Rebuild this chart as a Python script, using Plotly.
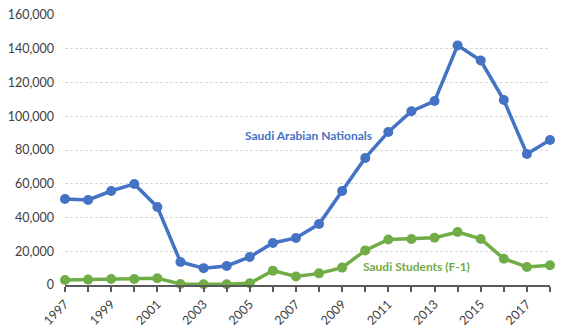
import plotly.graph_objects as go

years = list(range(1997, 2019))
nationals = [51000, 50400, 55700, 59900, 46200, 13600, 10000, 11300, 16600, 24900, 27900,
             36100, 55700, 75300, 90700, 103000, 109000, 142000, 133000, 109600, 77600, 85900]
students = [3000, 3200, 3600, 3600, 4000, 600, 400, 400, 1000, 8500, 5000,
            6900, 10300, 20500, 27000, 27300, 28000, 31400, 27300, 15600, 10700, 11700]
tick_text = [str(y) if y % 2 == 1 else "" for y in years]
y_ticks = list(range(0, 160001, 20000))
y_ticktext = [f"{v:,}" for v in y_ticks]

blue = "#4472C4"
green = "#70AD47"
font = "Lato"

fig = go.Figure()
fig.add_trace(go.Scatter(x=years, y=nationals, mode="lines+markers",
                         line=dict(color=blue, width=3.5),
                         marker=dict(color=blue, size=10),
                         cliponaxis=False, showlegend=False))
fig.add_trace(go.Scatter(x=years, y=students, mode="lines+markers",
                         line=dict(color=green, width=3.5),
                         marker=dict(color=green, size=10),
                         cliponaxis=False, showlegend=False))

fig.add_annotation(x=2007.56, y=88300, text="<b>Saudi Arabian Nationals</b>", showarrow=False,
                   font=dict(family=font, size=12, color=blue))
fig.add_annotation(x=2012.2, y=10700, text="<b>Saudi Students (F-1)</b>", showarrow=False,
                   font=dict(family=font, size=12, color=green))

fig.update_layout(
    width=576, height=334,
    margin=dict(l=65, r=26, t=15, b=49),
    paper_bgcolor="white", plot_bgcolor="white",
    font=dict(family=font, size=12, color="#404040"),
    xaxis=dict(range=[1997, 2018], tickvals=years, ticktext=tick_text, tickangle=-45,
               showgrid=False, showline=True, linecolor="#595959", linewidth=2,
               ticks="outside", ticklen=5, tickcolor="#595959", tickwidth=1.5,
               zeroline=False, automargin=False,
               tickfont=dict(family=font, size=12.5, color="#404040")),
    yaxis=dict(range=[0, 160000], tickvals=y_ticks, ticktext=y_ticktext,
               showgrid=True, gridcolor="#D9D9D9", griddash="3px,2px", gridwidth=1,
               zeroline=False, showline=False, ticks="", ticklabelstandoff=10,
               automargin=False,
               tickfont=dict(family=font, size=12.5, color="#404040")),
)

fig.write_html("out.html")
